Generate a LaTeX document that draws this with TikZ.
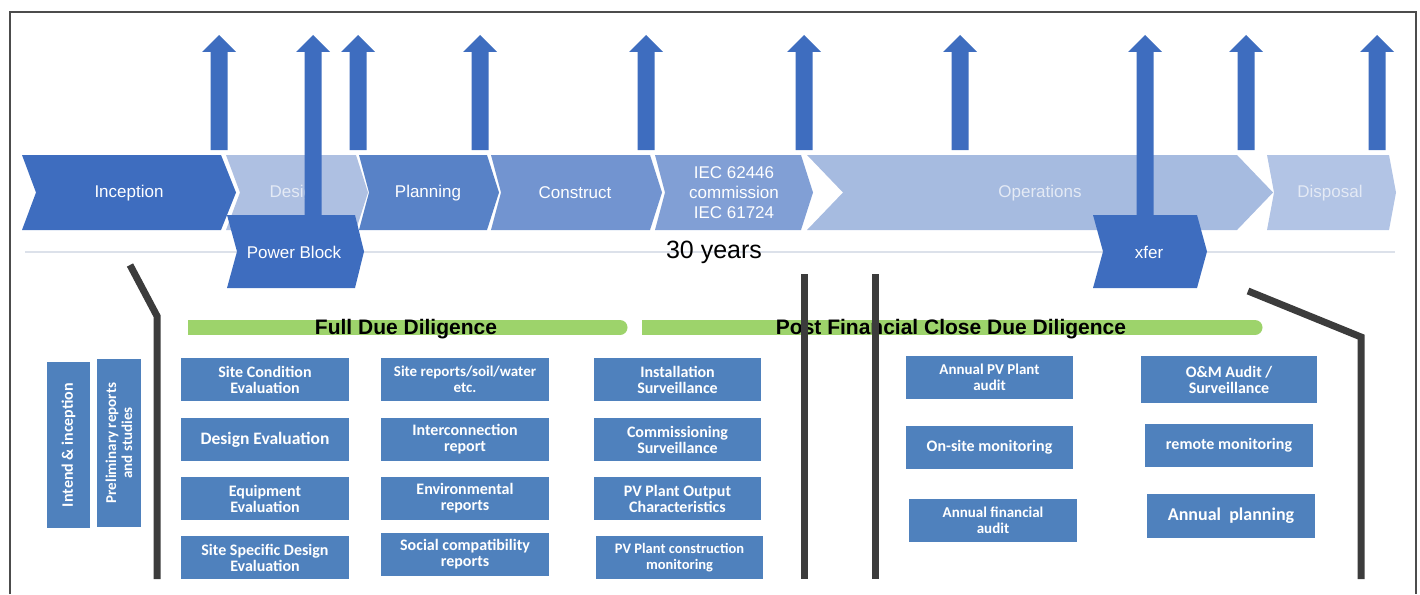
\documentclass[tikz,border=0pt]{standalone}
\usepackage{fontspec}
\setmainfont{Liberation Sans}
\newfontfamily\boxfont{Carlito}
\usepackage{tikz}
\usetikzlibrary{positioning}

\definecolor{darkblue}{HTML}{3E6DBF}
\definecolor{designblue}{HTML}{AEC0E2}
\definecolor{planblue}{HTML}{5882C7}
\definecolor{constrblue}{HTML}{7294D0}
\definecolor{iecblue}{HTML}{819FD5}
\definecolor{opsblue}{HTML}{A6BBE0}
\definecolor{dispblue}{HTML}{B2C4E5}
\definecolor{boxblue}{HTML}{4F81BD}
\definecolor{ddgreen}{HTML}{9DD36B}
\definecolor{timeline}{HTML}{DCE1EA}
\definecolor{sepgray}{HTML}{3C3C3C}
\definecolor{fadetext}{HTML}{E4EAF5}

\newcommand{\phasechev}[7]{%
  \fill[#7] (#1,#3) -- (#2,#3) -- ({#2+#6},{(#3+#4)/2}) -- (#2,#4) -- (#1,#4) -- ({#1+#5},{(#3+#4)/2}) -- cycle;}

\tikzset{
  phase/.style={text=white, font=\fontsize{17}{20}\selectfont, align=center, inner sep=0pt},
  fadephase/.style={phase, text=fadetext},
  task/.style={fill=boxblue, text=white, font=\boxfont\bfseries\fontsize{16}{16}\selectfont,
    align=center, inner sep=0pt, minimum width=168, minimum height=43},
  ddtitle/.style={font=\bfseries\fontsize{21}{21}\selectfont, anchor=base, inner sep=0pt},
  sepline/.style={sepgray, line width=7, line join=miter}
}

\begin{document}
\begin{tikzpicture}[x=1pt, y=-1pt]
	\useasboundingbox (0,0) rectangle (1420,594);
	\draw[black!70, line width=1.2] (10,594) -- (10,12) -- (1416,12) -- (1416,594);

	\phasechev{22}{221}{155}{230}{14}{15}{darkblue}
	\phasechev{226}{356}{155}{230}{14}{12}{designblue}
	\phasechev{359}{487}{155}{230}{10}{12}{planblue}
	\phasechev{491}{650}{155}{230}{10}{12}{constrblue}
	\phasechev{655}{801}{155}{230}{10}{12}{iecblue}
	\phasechev{807}{1237}{155}{230}{36}{36}{opsblue}
	\phasechev{1267}{1389}{155}{230}{7}{7}{dispblue}

	\node[phase] (inception) at (129,193) {Inception};
	\node[fadephase] (design) at (296,193) {Design};
	\node[phase] (planning) at (428,193) {Planning};
	\node[phase] (construct) at (575,193) {Construct};
	\node[phase] (commission) at (734,193) {IEC 62446\\commission\\IEC 61724};
	\node[fadephase] (operations) at (1040,193) {Operations};
	\node[fadephase] (disposal) at (1330,193) {Disposal};

	\foreach \ax/\ay in {219/150, 313/215, 358/150, 480/150, 646/150, 804/150, 960/150, 1145/215, 1246/150, 1377/150}
		\fill[darkblue] (\ax-8.5,\ay) -- (\ax-8.5,52) -- (\ax-17,52) -- (\ax,35) -- (\ax+17,52) -- (\ax+8.5,52) -- (\ax+8.5,\ay) -- cycle;

	\draw[timeline, line width=2] (25,252) -- (1395,252);
	\node[font=\fontsize{25}{25}\selectfont, inner sep=0pt] (years) at (714,252) {30 years};

	\phasechev{227}{355}{215}{288}{10}{9}{darkblue}
	\phasechev{1093}{1197}{215}{288}{10}{10}{darkblue}
	\node[phase] (powerblock) at (294,252) {Power Block};
	\node[phase] (xfer) at (1149,252) {xfer};

	\fill[ddgreen] (188,320) rectangle (620,335);
	\fill[ddgreen] (620,327.5) circle (7.5);
	\fill[ddgreen] (642,320) rectangle (1255,335);
	\fill[ddgreen] (1255,327.5) circle (7.5);
	\node[ddtitle] (fullDD) at (406,334) {Full Due Diligence};
	\node[ddtitle] (postDD) at (951,334) {Post Financial Close Due Diligence};

	\coordinate (l1) at (130,265);
	\coordinate (l2) at (157,316);
	\coordinate (l3) at (157,579);
	\coordinate (m1) at (804,274);
	\coordinate (m2) at (804,579);
	\coordinate (n1) at (875,274);
	\coordinate (n2) at (875,579);
	\coordinate (r1) at (1248,291);
	\coordinate (r2) at (1361,337);
	\coordinate (r3) at (1361,579);
	\draw[sepline] (l1) -- (l2) -- (l3);
	\draw[sepline] (m1) -- (m2);
	\draw[sepline] (n1) -- (n2);
	\draw[sepline] (r1) -- (r2) -- (r3);

	\node[task, rotate=90, minimum width=166, minimum height=43] (intend) at (68.5,445) {Intend \& inception};
	\node[task, rotate=90, minimum width=168, minimum height=44, font=\boxfont\bfseries\fontsize{15}{16}\selectfont] (prelim) at (119,443) {Preliminary reports\\and studies};

	\node[task] (siteCond) at (265,379.5) {Site Condition\\Evaluation};
	\node[task, font=\boxfont\bfseries\fontsize{17.5}{18}\selectfont] (designEval) at (265,439.5) {Design Evaluation};
	\node[task] (equipEval) at (265,498.5) {Equipment\\Evaluation};
	\node[task] (siteSpec) at (265,557.5) {Site Specific Design\\Evaluation};

	\node[task, font=\boxfont\bfseries\fontsize{15}{16}\selectfont] (siteRep) at (465,379.5) {Site reports/soil/water\\etc.};
	\node[task] (interconn) at (465,439.5) {Interconnection\\report};
	\node[task] (environ) at (465,498.5) {Environmental\\reports};
	\node[task] (social) at (465,554.5) {Social compatibility\\reports};

	\node[task, minimum width=167] (install) at (677.5,379.5) {Installation\\Surveillance};
	\node[task, minimum width=167] (commiss) at (677.5,439.5) {Commissioning\\Surveillance};
	\node[task, minimum width=167] (output) at (677.5,498.5) {PV Plant Output\\Characteristics};
	\node[task, minimum width=167, font=\boxfont\bfseries\fontsize{14.5}{16}\selectfont] (constr) at (679.5,557.5) {PV Plant construction\\monitoring};

	\node[task, minimum width=167, font=\boxfont\bfseries\fontsize{15}{16}\selectfont] (annualPV) at (989.5,377.5) {Annual PV Plant\\audit};
	\node[task, minimum width=167] (onsite) at (989.5,447.5) {On-site monitoring};
	\node[task, font=\boxfont\bfseries\fontsize{15}{16}\selectfont] (annualFin) at (993,520.5) {Annual financial\\audit};

	\node[task, minimum width=176, minimum height=47] (omAudit) at (1229,379.5) {O\&M Audit /\\Surveillance};
	\node[task] (remote) at (1229,445.5) {remote monitoring};
	\node[task, minimum height=44, font=\boxfont\bfseries\fontsize{18}{18}\selectfont] (annualPlan) at (1231,516) {Annual~~planning};
\end{tikzpicture}
\end{document}
